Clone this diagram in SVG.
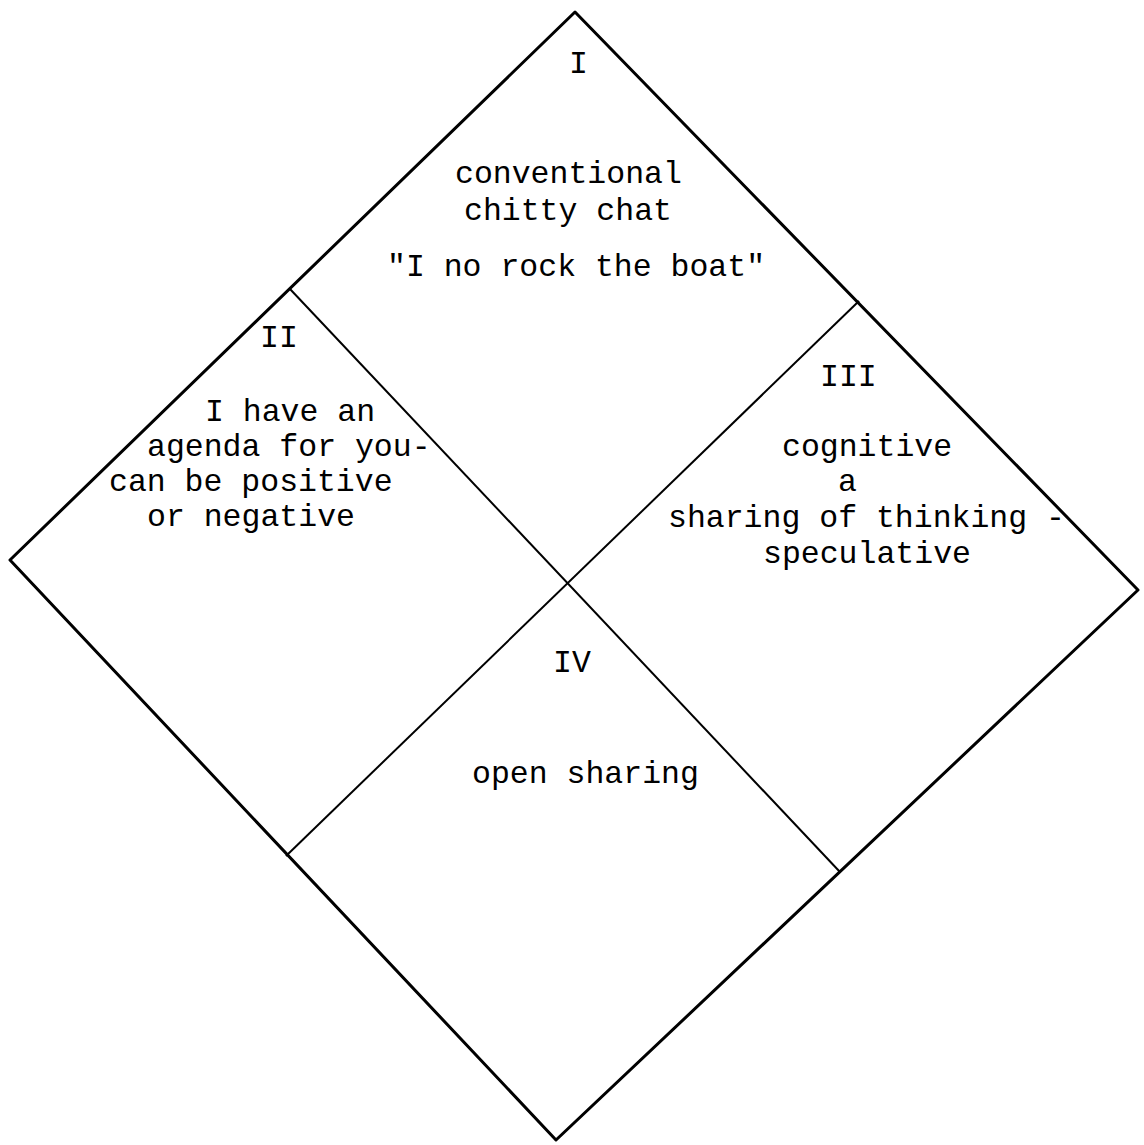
<svg xmlns="http://www.w3.org/2000/svg" width="1144" height="1145" viewBox="0 0 1144 1145">
<style>
.t{font-family:"Liberation Mono","Courier New",monospace;font-size:31.5px;fill:#000}
.outer{fill:none;stroke:#000;stroke-width:3;stroke-linejoin:round}
.inner{fill:none;stroke:#000;stroke-width:2}
</style>
<rect width="1144" height="1145" fill="#fff"/>
<g id="connectors">
<polygon class="outer" points="575,12 1138,590 556,1140 10,560"/>
<line class="inner" x1="290" y1="289" x2="840" y2="872"/>
<line class="inner" x1="859" y1="301" x2="286" y2="856"/>
</g>
<g id="quadrant-I">
<text class="t" x="569" y="73">I</text>
<text class="t" x="455" y="183">conventional</text>
<text class="t" x="464" y="220">chitty chat</text>
<text class="t" x="387" y="276">"I no rock the boat"</text>
</g>
<g id="quadrant-II">
<text class="t" x="260" y="347">II</text>
<text class="t" x="205" y="421">I have an</text>
<text class="t" x="147" y="456">agenda for you-</text>
<text class="t" x="109" y="491">can be positive</text>
<text class="t" x="147" y="526">or negative</text>
</g>
<g id="quadrant-III">
<text class="t" x="820" y="386">III</text>
<text class="t" x="782" y="456">cognitive</text>
<text class="t" x="838" y="491">a</text>
<text class="t" x="668" y="527">sharing of thinking -</text>
<text class="t" x="763" y="563">speculative</text>
</g>
<g id="quadrant-IV">
<text class="t" x="553" y="672">IV</text>
<text class="t" x="472" y="783">open sharing</text>
</g>
</svg>
